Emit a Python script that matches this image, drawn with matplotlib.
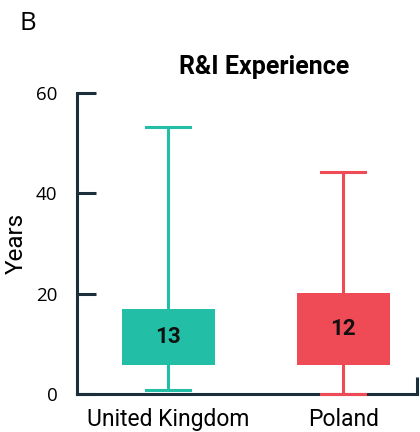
import matplotlib
matplotlib.use("Agg")
import matplotlib.pyplot as plt

categories = ["United Kingdom", "Poland"]
q1 = [5.8, 5.8]
q3 = [16.9, 20.1]
whisker_low = [0.8, 0.0]
whisker_high = [53.2, 44.3]
box_labels = ["13", "12"]
colors = ["#22BFA6", "#EF4B56"]
yticks = [0, 20, 40, 60]

axis_color = "#1A2E3B"
dpi = 100
fig = plt.figure(figsize=(4.2, 4.32), dpi=dpi)
ax = fig.add_axes([77/420, 1-394/432, (417-77)/420, (394-93)/432])

positions = list(range(len(categories)))
for i, pos in enumerate(positions):
    stats = [dict(med=(q1[i]+q3[i])/2, q1=q1[i], q3=q3[i],
                  whislo=whisker_low[i], whishi=whisker_high[i], fliers=[])]
    c = colors[i]
    ax.bxp(stats, positions=[pos], widths=0.53, patch_artist=True,
           showfliers=False,
           boxprops=dict(facecolor=c, edgecolor=c, linewidth=0),
           medianprops=dict(color=c, linewidth=0),
           whiskerprops=dict(color=c, linewidth=2.2),
           capprops=dict(color=c, linewidth=2.2, clip_on=False),
           capwidths=0.25, zorder=3)
    ax.text(pos, (q1[i]+q3[i])/2, box_labels[i], ha="center", va="center",
            fontsize=16, fontweight="bold", family="Roboto", color="#111111", zorder=5)

xl, xr = -0.52, 1.42
ax.set_xlim(xl, xr)
ax.set_ylim(0, 60)
ax.set_yticks(yticks)
ax.set_yticklabels([str(t) for t in yticks], family="Open Sans", fontsize=13.5)
ax.set_xticks(positions)
ax.set_xticklabels(categories, family="Roboto", fontsize=16.5)
ax.tick_params(axis="x", length=0, pad=10)
ax.set_xticks([xr], minor=True)
ax.tick_params(axis="x", which="minor", direction="in", length=12.5, width=2.2, color=axis_color)
ax.tick_params(axis="y", direction="in", length=13.5, width=2.2, color=axis_color, pad=14)

for s in ["top", "right"]:
    ax.spines[s].set_visible(False)
for s in ["left", "bottom"]:
    ax.spines[s].set_color(axis_color)
    ax.spines[s].set_linewidth(2.2)

ax.set_ylabel("Years", family="Roboto", fontsize=17.5, labelpad=6)
ax.set_title("R&I Experience", family="Roboto", fontweight="bold", fontsize=18, pad=14, x=0.55)
fig.text(20/420, 1-30/432, "B", family="Open Sans", fontsize=18.5)

fig.savefig("out.png", dpi=dpi)
